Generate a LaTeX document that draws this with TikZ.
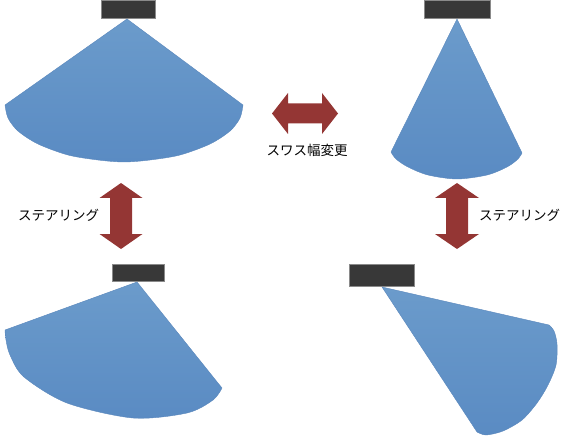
\documentclass[tikz,border=0pt]{standalone}
\usepackage{fontspec}
\newfontfamily\jpfont{Noto Sans CJK JP}
\definecolor{fantop}{HTML}{6B9BCB}
\definecolor{fanbot}{HTML}{5A8BC3}
\definecolor{fanedge}{HTML}{5A87BC}
\definecolor{sensorfill}{HTML}{383838}
\definecolor{sensoredge}{HTML}{8A8A8A}
\definecolor{arrowred}{HTML}{943634}
\begin{document}
\begin{tikzpicture}[x=1pt,y=-1pt,
  fan/.style={top color=fantop,bottom color=fanbot,draw=fanedge,line width=0.4pt,line join=round},
  sensor/.style={fill=sensorfill,draw=sensoredge,line width=0.5pt,inner sep=0pt},
  swarrow/.style={fill=arrowred},
  lbl/.style={font=\jpfont\fontsize{13.5}{16}\selectfont,inner sep=0pt}]
\useasboundingbox (0,0) rectangle (561,438);

% sensors
\node[sensor,minimum width=54pt,minimum height=18pt] (s1) at (128,9) {};
\node[sensor,minimum width=66pt,minimum height=18pt] (s2) at (457,9) {};
\node[sensor,minimum width=52pt,minimum height=17pt] (s3) at (138,272.5) {};
\node[sensor,minimum width=65pt,minimum height=22pt] (s4) at (381.5,275) {};

% fans
\shade[fan] (127,19) -- plot[smooth] coordinates {(5,105) (8,118) (18,131) (38,144) (68,155) (98,160) (124,162) (150,160) (180,155) (210,144) (230,131) (240,118) (243,105)} -- cycle;
\shade[fan] (457,19) -- plot[smooth] coordinates {(391,152) (396,159) (408,167) (428,175) (457,179) (487,175) (507,167) (518,159) (522,153)} -- cycle;
\shade[fan] (137,282) -- plot[smooth] coordinates {(5,330) (6,340) (10,355) (24,377) (67,403) (133,418) (187,413) (213,400) (222,388)} -- cycle;
\shade[fan] (382,287) -- plot[smooth] coordinates {(549,325) (554,331) (557,344) (556,365) (548,385) (537,403) (522,420) (503,431) (486,435) (477,432)} -- cycle;

% arrows
\fill[swarrow] (272,113.5) -- (288,93) -- (288,103.5) -- (322,103.5) -- (322,93) -- (338,113.5) -- (322,134) -- (322,123.5) -- (288,123.5) -- (288,134) -- cycle;
\fill[swarrow] (121,183) -- (142.5,198) -- (132,198) -- (132,234) -- (142.5,234) -- (121,249) -- (99.5,234) -- (110,234) -- (110,198) -- (99.5,198) -- cycle;
\fill[swarrow] (457,183) -- (479,198) -- (468,198) -- (468,234) -- (479,234) -- (457,249) -- (435,234) -- (446,234) -- (446,198) -- (435,198) -- cycle;

% labels
\node[lbl] (t1) at (307,150) {スワス幅変更};
\node[lbl] (t2) at (58.5,215.5) {ステアリング};
\node[lbl] (t3) at (519.5,215.5) {ステアリング};
\end{tikzpicture}
\end{document}
